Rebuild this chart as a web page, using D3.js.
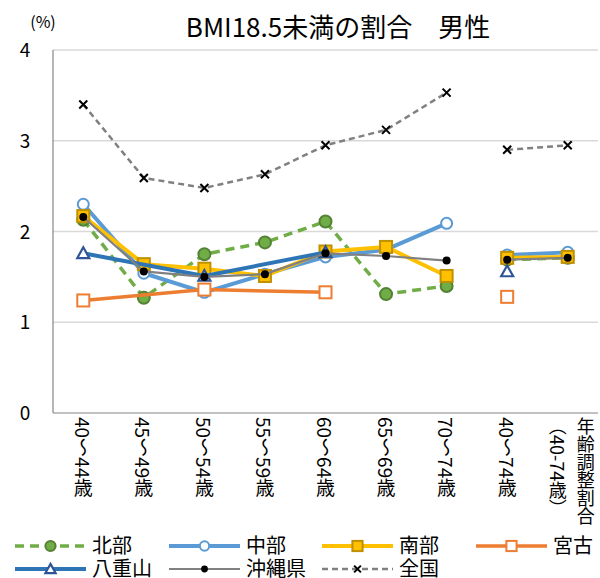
<!DOCTYPE html>
<html>
<head>
<meta charset="utf-8">
<script src="https://cdn.jsdelivr.net/npm/d3@7"></script>
<style>
  body { margin: 0; background: #fff; }
  text { font-family: "Noto Sans CJK JP", sans-serif; fill: #000; }
</style>
</head>
<body>
<script>
const width = 600;
const height = 578;

const categories = ['40～44歳', '45～49歳', '50～54歳', '55～59歳', '60～64歳', '65～69歳', '70～74歳', '40～74歳', '年齢調整割合'];
const groups = [[0, 6], [7, 8]];
const yTicks = [0, 1, 2, 3, 4];

const hokubu   = [2.13, 1.27, 1.75, 1.88, 2.11, 1.31, 1.40, 1.69, 1.71];
const chubu    = [2.30, 1.54, 1.33, 1.53, 1.72, 1.80, 2.09, 1.74, 1.77];
const nanbu    = [2.17, 1.64, 1.59, 1.51, 1.78, 1.83, 1.51, 1.71, 1.72];
const miyako   = [1.24, null, 1.36, null, 1.33, null, null, 1.28, null];
const yaeyama  = [1.76, null, 1.51, null, 1.77, null, null, 1.56, null];
const okinawa  = [2.16, 1.56, 1.50, 1.53, 1.76, 1.73, 1.68, 1.69, 1.71];
const zenkoku  = [3.40, 2.59, 2.48, 2.63, 2.95, 3.12, 3.53, 2.90, 2.95];

const series = [
  {name: '北部', values: hokubu, color: '#70AD47', width: 3.5, dash: '9,6', marker: 'circle', fill: '#70AD47', stroke: '#548235', size: 6},
  {name: '中部', values: chubu, color: '#5B9BD5', width: 4, dash: null, marker: 'circle', fill: '#fff', stroke: '#5B9BD5', size: 5.5},
  {name: '南部', values: nanbu, color: '#FFC000', width: 4, dash: null, marker: 'square', fill: '#FFC000', stroke: '#BF9000', size: 6},
  {name: '宮古', values: miyako, color: '#ED7D31', width: 3.5, dash: null, marker: 'square', fill: '#fff', stroke: '#ED7D31', size: 6},
  {name: '八重山', values: yaeyama, color: '#2E75B6', width: 4, dash: null, marker: 'triangle', fill: '#fff', stroke: '#2F5597', size: 6},
  {name: '沖縄県', values: okinawa, color: '#808080', width: 2.2, dash: null, marker: 'dot', fill: '#000', stroke: '#000', size: 4},
  {name: '全国', values: zenkoku, color: '#808080', width: 2.5, dash: '6,4', marker: 'cross', fill: 'none', stroke: '#000', size: 4}
];

const plot = {left: 53, right: 598, top: 50, bottom: 413};

const svg = d3.select('body')
  .append('svg')
  .attr('width', width)
  .attr('height', height);

const x = d3.scaleBand()
  .domain(d3.range(categories.length))
  .range([plot.left, plot.right]);

const y = d3.scaleLinear()
  .domain([0, 4])
  .range([plot.bottom, plot.top]);

const cx = i => x(i) + x.bandwidth() / 2;

// title
svg.append('text')
  .attr('x', 338).attr('y', 37)
  .attr('text-anchor', 'middle')
  .attr('font-size', 26)
  .text('BMI18.5未満の割合　男性');

svg.append('text')
  .attr('x', 43).attr('y', 28)
  .attr('text-anchor', 'middle')
  .attr('font-size', 16)
  .text('(%)');

// grid
svg.append('g')
  .selectAll('line')
  .data(yTicks.filter(d => d > 0))
  .join('line')
    .attr('x1', plot.left).attr('x2', plot.right)
    .attr('y1', d => y(d)).attr('y2', d => y(d))
    .attr('stroke', '#D9D9D9')
    .attr('stroke-width', 1.5);

svg.append('g')
  .selectAll('text')
  .data(yTicks)
  .join('text')
    .attr('x', 25)
    .attr('y', d => y(d) + 7)
    .attr('text-anchor', 'middle')
    .attr('font-size', 19)
    .text(d => d);

svg.append('line')
  .attr('x1', plot.left).attr('x2', plot.left)
  .attr('y1', plot.top).attr('y2', plot.bottom)
  .attr('stroke', '#868686').attr('stroke-width', 1.2);
svg.append('line')
  .attr('x1', plot.left).attr('x2', plot.right)
  .attr('y1', plot.bottom).attr('y2', plot.bottom)
  .attr('stroke', '#868686').attr('stroke-width', 1.2);

// x labels (vertical)
const xl = svg.append('g');
categories.forEach((c, i) => {
  if (i === categories.length - 1) {
    xl.append('text')
      .attr('x', cx(i) + 18).attr('y', 417)
      .attr('writing-mode', 'tb')
      .attr('font-size', 18)
      .text(c);
    xl.append('text')
      .attr('x', cx(i) - 10).attr('y', 417)
      .attr('writing-mode', 'tb')
      .attr('font-size', 18)
      .text('（40-74歳）');
  } else {
    xl.append('text')
      .attr('x', cx(i)).attr('y', 417)
      .attr('writing-mode', 'tb')
      .attr('font-size', 19)
      .text(c);
  }
});

const line = d3.line()
  .x(d => cx(d.i))
  .y(d => y(d.v));

const drawMarker = (g, s, px, py) => {
  const r = s.size;
  if (s.marker === 'circle' || s.marker === 'dot') {
    g.append('circle').attr('cx', px).attr('cy', py).attr('r', r)
      .attr('fill', s.fill).attr('stroke', s.stroke).attr('stroke-width', s.marker === 'dot' ? 0 : 2);
  } else if (s.marker === 'square') {
    g.append('rect').attr('x', px - r).attr('y', py - r).attr('width', 2 * r).attr('height', 2 * r)
      .attr('fill', s.fill).attr('stroke', s.stroke).attr('stroke-width', 2);
  } else if (s.marker === 'triangle') {
    g.append('path')
      .attr('d', `M${px},${py - r}L${px + r},${py + r * 0.8}L${px - r},${py + r * 0.8}Z`)
      .attr('fill', s.fill).attr('stroke', s.stroke).attr('stroke-width', 2.2);
  } else if (s.marker === 'cross') {
    g.append('path')
      .attr('d', `M${px - r},${py - r}L${px + r},${py + r}M${px - r},${py + r}L${px + r},${py - r}`)
      .attr('stroke', s.stroke).attr('stroke-width', 2);
  }
};

series.forEach(s => {
  const g = svg.append('g');
  groups.forEach(([a, b]) => {
    const pts = d3.range(a, b + 1)
      .map(i => ({i, v: s.values[i]}))
      .filter(d => d.v != null);
    if (pts.length > 1) {
      g.append('path')
        .attr('d', line(pts))
        .attr('fill', 'none')
        .attr('stroke', s.color)
        .attr('stroke-width', s.width)
        .attr('stroke-dasharray', s.dash)
        .attr('stroke-linejoin', 'round');
    }
  });
  s.values.forEach((v, i) => {
    if (v != null) drawMarker(g, s, cx(i), y(v));
  });
});

// legend
const legendCols = [15, 169, 322, 476];
const legendRows = [546, 569];
series.forEach((s, k) => {
  const lx = legendCols[k % 4];
  const ly = legendRows[Math.floor(k / 4)];
  const g = svg.append('g');
  g.append('line')
    .attr('x1', lx).attr('x2', lx + 71)
    .attr('y1', ly).attr('y2', ly)
    .attr('stroke', s.color)
    .attr('stroke-width', s.width)
    .attr('stroke-dasharray', s.dash);
  drawMarker(g, Object.assign({}, s, {size: s.size * 0.85}), lx + 35.5, ly);
  g.append('text')
    .attr('x', lx + 77).attr('y', ly + 7)
    .attr('font-size', 20)
    .text(s.name);
});
</script>
</body>
</html>
